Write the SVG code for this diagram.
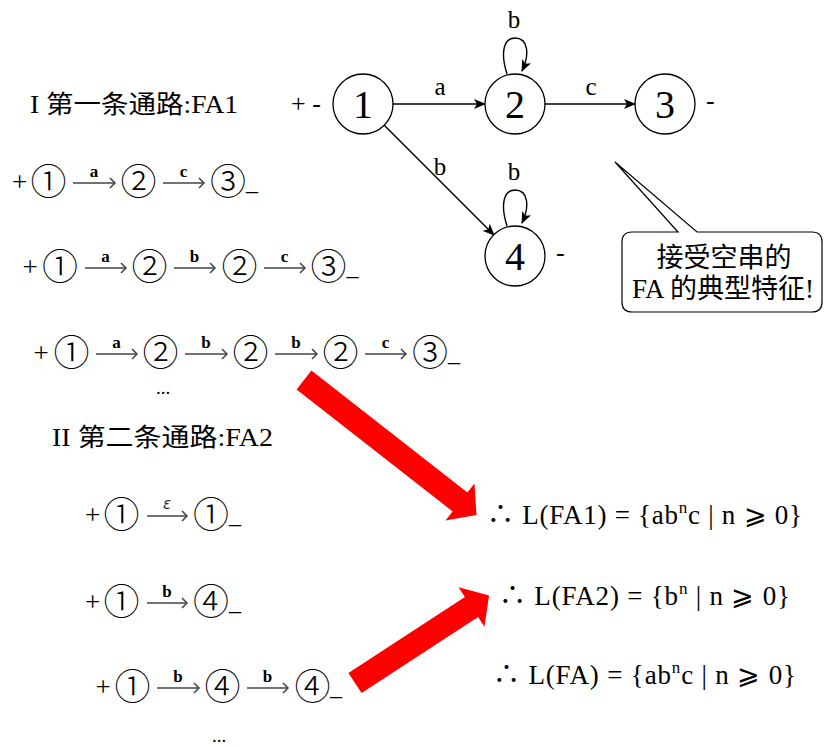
<svg xmlns="http://www.w3.org/2000/svg" width="824" height="747" viewBox="0 0 824 747">
<style>
text{font-family:"Liberation Serif","Noto Sans CJK SC","DejaVu Serif",serif;fill:#000}
.t{font-size:25px}
.nd{font-size:40px;text-anchor:middle}
.el{font-size:25px;text-anchor:middle}
.sm{font-size:26px}
.dots{font-size:19px}
.cd{font-family:"Noto Sans CJK SC",sans-serif;font-size:36px;font-weight:300;text-anchor:middle}
.pl{font-size:27px;text-anchor:middle}
.us{font-size:24px}
.lb{font-size:17px;font-weight:bold;text-anchor:middle}
.eps{font-family:"DejaVu Sans",sans-serif;font-size:15px;font-style:italic;text-anchor:middle;fill:#333}
.eq{font-size:27px}
.co{font-size:27px;text-anchor:middle}
.circ{fill:#fff;stroke:#000;stroke-width:1.3}
.edge{fill:none;stroke:#000;stroke-width:1.4}
.ra{fill:none;stroke:#444;stroke-width:1.5}
.red{fill:#ff0000;stroke:none}
</style>
<defs>
<marker id="ah" viewBox="0 0 12 10" refX="11" refY="5" markerWidth="12" markerHeight="10" orient="auto" markerUnits="userSpaceOnUse"><path d="M0,0 L12,5 L0,10 L3,5 z" fill="#000"/></marker>
</defs>

<g id="title1"><text class="t" x="30" y="113" textLength="208" lengthAdjust="spacingAndGlyphs">I 第一条通路:FA1</text></g>
<g id="title2"><text class="t" x="52" y="446" textLength="221" lengthAdjust="spacingAndGlyphs">II 第二条通路:FA2</text></g>

<g id="connectors">
<line class="edge" x1="393" y1="104" x2="485" y2="104" marker-end="url(#ah)"/>
<line class="edge" x1="545" y1="104" x2="635" y2="104" marker-end="url(#ah)"/>
<line class="edge" x1="384" y1="125" x2="494" y2="235" marker-end="url(#ah)"/>
<path class="edge" d="M507,74 C500,52 504,38 515,38 C528,38 530,54 522,71" marker-end="url(#ah)"/>
<path class="edge" d="M507,226 C500,204 504,190 515,190 C528,190 530,206 522,223" marker-end="url(#ah)"/>
<text class="el" x="440" y="95">a</text>
<text class="el" x="591" y="95">c</text>
<text class="el" x="440" y="175">b</text>
<text class="el" x="514" y="28">b</text>
<text class="el" x="514" y="180">b</text>
</g>

<g id="n1"><circle class="circ" cx="363" cy="104" r="30"/><text class="nd" x="363" y="118">1</text></g>
<g id="n2"><circle class="circ" cx="515" cy="104" r="30"/><text class="nd" x="515" y="118">2</text></g>
<g id="n3"><circle class="circ" cx="665" cy="104" r="30"/><text class="nd" x="665" y="118">3</text></g>
<g id="n4"><circle class="circ" cx="515" cy="256" r="30"/><text class="nd" x="515" y="270">4</text></g>
<g id="marks">
<text class="sm" x="291" y="112">+ -</text>
<text class="sm" x="706" y="109">-</text>
<text class="sm" x="556" y="261">-</text>
</g>

<g id="callout">
<path d="M632,232 L678,232 L615,162 L697,232 L812,232 Q822,232 822,242 L822,302 Q822,312 812,312 L632,312 Q622,312 622,302 L622,242 Q622,232 632,232 Z" fill="#fff" stroke="#000" stroke-width="1.2"/>
<text class="co" x="724" y="267">接受空串的</text>
<text class="co" x="723" y="298">FA 的典型特征!</text>
</g>

<g id="path1-row1">
<text class="pl" x="19.5" y="191">+</text>
<text class="cd" x="48.5" y="195">①</text>
<line class="ra" x1="73" y1="183" x2="115" y2="183"/><path class="ra" d="M110,178 L115,183 L110,188"/><text class="lb" x="94" y="177">a</text>
<text class="cd" x="138.5" y="195">②</text>
<line class="ra" x1="163" y1="183" x2="204" y2="183"/><path class="ra" d="M199,178 L204,183 L199,188"/><text class="lb" x="183.5" y="177">c</text>
<text class="cd" x="228" y="195">③</text>
<text class="us" x="246" y="190">_</text>
</g>

<g id="path1-row2">
<text class="pl" x="30" y="276">+</text>
<text class="cd" x="60" y="280">①</text>
<line class="ra" x1="85" y1="268" x2="126" y2="268"/><path class="ra" d="M121,263 L126,268 L121,273"/><text class="lb" x="105.5" y="262">a</text>
<text class="cd" x="149.5" y="280">②</text>
<line class="ra" x1="174" y1="268" x2="215" y2="268"/><path class="ra" d="M210,263 L215,268 L210,273"/><text class="lb" x="194.5" y="262">b</text>
<text class="cd" x="239.5" y="280">②</text>
<line class="ra" x1="264" y1="268" x2="305" y2="268"/><path class="ra" d="M300,263 L305,268 L300,273"/><text class="lb" x="284.5" y="262">c</text>
<text class="cd" x="328.5" y="280">③</text>
<text class="us" x="346.5" y="275">_</text>
</g>

<g id="path1-row3">
<text class="pl" x="41" y="362">+</text>
<text class="cd" x="71.5" y="366">①</text>
<line class="ra" x1="96" y1="354" x2="137" y2="354"/><path class="ra" d="M132,349 L137,354 L132,359"/><text class="lb" x="116.5" y="348">a</text>
<text class="cd" x="160.5" y="366">②</text>
<line class="ra" x1="185" y1="354" x2="227" y2="354"/><path class="ra" d="M222,349 L227,354 L222,359"/><text class="lb" x="206" y="348">b</text>
<text class="cd" x="250.5" y="366">②</text>
<line class="ra" x1="275" y1="354" x2="317" y2="354"/><path class="ra" d="M312,349 L317,354 L312,359"/><text class="lb" x="296" y="348">b</text>
<text class="cd" x="340.5" y="366">②</text>
<line class="ra" x1="365" y1="354" x2="406" y2="354"/><path class="ra" d="M401,349 L406,354 L401,359"/><text class="lb" x="385.5" y="348">c</text>
<text class="cd" x="430" y="366">③</text>
<text class="us" x="448" y="361">_</text>
<text class="dots" x="156" y="394">...</text>
</g>

<g id="path2-row1">
<text class="pl" x="92.5" y="524">+</text>
<text class="cd" x="121.5" y="528">①</text>
<line class="ra" x1="147" y1="516" x2="187" y2="516"/><path class="ra" d="M182,511 L187,516 L182,521"/><text class="eps" x="167" y="509">ε</text>
<text class="cd" x="211" y="528">①</text>
<text class="us" x="229" y="523">_</text>
</g>

<g id="path2-row2">
<text class="pl" x="92.5" y="611">+</text>
<text class="cd" x="121.5" y="615">①</text>
<line class="ra" x1="147" y1="603" x2="187" y2="603"/><path class="ra" d="M182,598 L187,603 L182,608"/><text class="lb" x="167" y="597">b</text>
<text class="cd" x="211" y="615">④</text>
<text class="us" x="229" y="610">_</text>
</g>

<g id="path2-row3">
<text class="pl" x="103" y="696">+</text>
<text class="cd" x="132.5" y="700">①</text>
<line class="ra" x1="157" y1="688" x2="199" y2="688"/><path class="ra" d="M194,683 L199,688 L194,693"/><text class="lb" x="178" y="682">b</text>
<text class="cd" x="222.5" y="700">④</text>
<line class="ra" x1="247" y1="688" x2="288" y2="688"/><path class="ra" d="M283,683 L288,688 L283,693"/><text class="lb" x="267.5" y="682">b</text>
<text class="cd" x="312.5" y="700">④</text>
<text class="us" x="330" y="695">_</text>
<text class="dots" x="212" y="742">...</text>
</g>

<g id="red-arrows">
<polygon class="red" points="311.4,370.6 467.4,492.6 474.5,483.5 476.5,515 445.5,520.5 452.6,511.4 296.6,389.4"/>
<polygon class="red" points="348.4,672.9 464.9,596.9 458.6,587.3 489.1,595.5 484.4,626.7 478.1,617.1 361.6,693.1"/>
</g>

<g id="equations">
<text class="eq" x="487" y="524" textLength="315" lengthAdjust="spacing">∴ L(FA1) = {ab<tspan font-size="17" dy="-11">n</tspan><tspan dy="11">c | n ⩾ 0}</tspan></text>
<text class="eq" x="499" y="605" textLength="291" lengthAdjust="spacing">∴ L(FA2) = {b<tspan font-size="17" dy="-11">n</tspan><tspan dy="11"> | n ⩾ 0}</tspan></text>
<text class="eq" x="493" y="684" textLength="303" lengthAdjust="spacing">∴ L(FA) = {ab<tspan font-size="17" dy="-11">n</tspan><tspan dy="11">c | n ⩾ 0}</tspan></text>
</g>
</svg>
